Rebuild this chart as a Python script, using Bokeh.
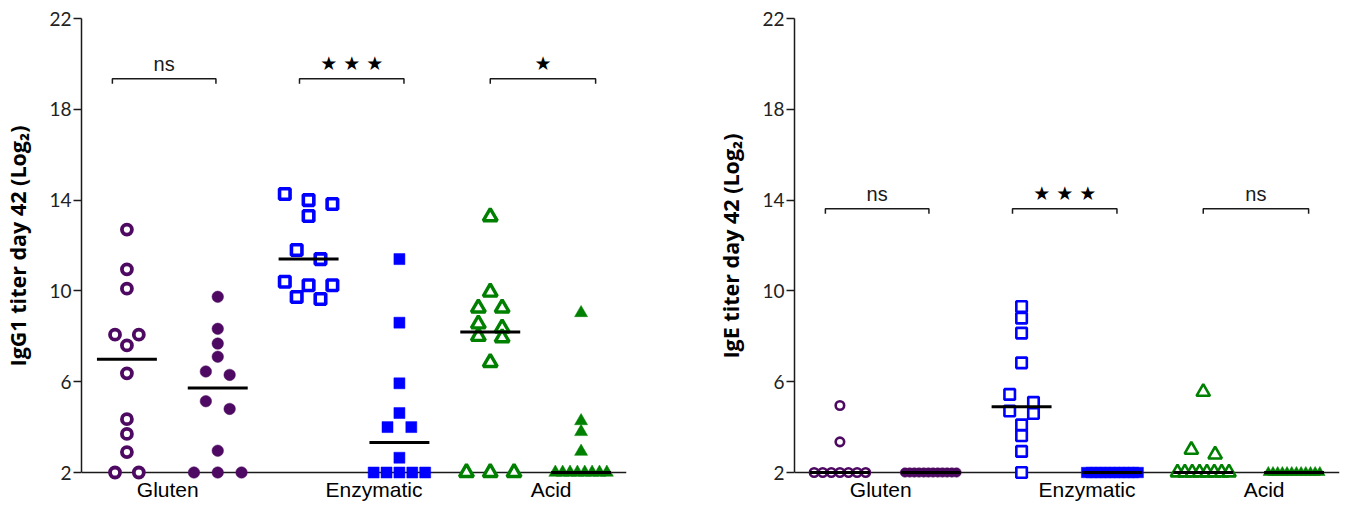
import numpy as np
from bokeh.plotting import figure
from bokeh.layouts import row
from bokeh.models import Range1d, FixedTicker, Span
from bokeh.core.properties import value
from bokeh.embed import file_html
from bokeh.resources import INLINE

# ---------------- data ----------------
groups = ["Gluten", "Enzymatic", "Acid"]
group_label_pos = [1.45, 3.72, 5.67]
y_ticks = [2, 6, 10, 14, 18, 22]

# IgG1 (left panel), log2 titers; open = first column, filled = second column
igg1_gluten_open = [12.7, 10.95, 10.1, 8.07, 8.07, 7.6, 6.37, 4.35, 3.7, 2.9, 2, 2]
igg1_gluten_filled = [9.74, 8.33, 7.68, 7.1, 6.45, 6.3, 5.14, 4.8, 2.96, 2, 2, 2]
igg1_enz_open = [14.27, 14.0, 13.83, 13.3, 11.8, 11.4, 10.4, 10.25, 10.25, 9.73, 9.64]
igg1_enz_filled = [11.4, 8.6, 5.93, 4.62, 4.0, 4.0, 2.65, 2, 2, 2, 2, 2]
igg1_acid_open = [13.27, 9.95, 9.25, 9.25, 8.55, 8.37, 8.0, 7.94, 6.85, 2, 2, 2]
igg1_acid_filled = [9.03, 4.27, 3.79, 2.92, 2, 2, 2, 2, 2, 2, 2, 2]
igg1_sig = ["ns", "★ ★ ★", "★"]

# IgE (right panel)
ige_gluten_open = [4.95, 3.35, 2, 2, 2, 2, 2, 2, 2]
ige_gluten_filled = [2, 2, 2, 2, 2, 2, 2, 2, 2, 2, 2, 2]
ige_enz_open = [9.31, 8.8, 8.14, 6.83, 5.44, 5.09, 4.71, 4.6, 4.1, 3.62, 2.93, 2]
ige_enz_filled = [2, 2, 2, 2, 2, 2, 2, 2, 2, 2, 2, 2]
ige_acid_open = [5.55, 3.0, 2.79, 2, 2, 2, 2, 2, 2, 2, 2]
ige_acid_filled = [2, 2, 2, 2, 2, 2, 2, 2, 2, 2, 2, 2]
ige_sig = ["ns", "★ ★ ★", "ns"]

# ---------------- layout constants ----------------
PURPLE = "#4e0a63"
BLUE = "#0000ff"
GREEN = "#008000"
INK = "#1a1a1a"

HEIGHT = 501
TOP = 18
FRAME_H = HEIGHT - TOP
FRAME_W = 550
PX_Y = 22.7                       # pixels per log2 unit
X0, X1 = 0.5, 6.5
Y1 = 22
Y0 = Y1 - FRAME_H / PX_Y          # frame reaches down to hold the group names
PX_X = FRAME_W / (X1 - X0)
LABEL_DROP_PX = 17                # baseline of group names below y = 2
NBSP = "\u00a0"

bracket_spans = [(0.84, 1.98), (2.9, 4.05), (5.0, 6.16)]


def swarm(vals, center, step_px=24.0, max_span_px=52.0, row_px=10.0):
    """Spread points that share (nearly) the same value horizontally."""
    order = sorted(range(len(vals)), key=lambda i: -vals[i])
    rows = []
    for i in order:
        if rows and (vals[rows[-1][0]] - vals[i]) * PX_Y < row_px:
            rows[-1].append(i)
        else:
            rows.append([i])
    xs = [0.0] * len(vals)
    for r in rows:
        n = len(r)
        step = step_px if n < 2 else min(step_px, max_span_px / (n - 1))
        for k, i in enumerate(r):
            xs[i] = center + (k - (n - 1) / 2) * step / PX_X
    return xs


def make_panel(series, ylabel, sig, bracket_y, width, border_right, styles):
    p = figure(width=width, height=HEIGHT, output_backend="svg", toolbar_location=None,
               x_range=Range1d(X0, X1), y_range=Range1d(Y0, Y1),
               min_border_left=76, min_border_right=border_right,
               min_border_top=TOP, min_border_bottom=0)
    p.outline_line_color = None
    p.xgrid.visible = False
    p.ygrid.visible = False
    p.xaxis.visible = False
    p.background_fill_color = "white"
    p.border_fill_color = "white"

    # baseline at y = 2 (acts as the x axis line)
    p.add_layout(Span(location=2, dimension="width", line_color=INK,
                      line_width=1.5, level="underlay"))

    # points
    for k, vals in enumerate(series):
        pos = k + 1
        st = styles[k]
        xs = swarm(vals, pos)
        kw = dict(marker=st["marker"], size=st["size"], line_color=st["color"],
                  line_width=st["lw"])
        kw["fill_color"] = st["color"] if st["filled"] else "white"
        p.scatter(xs, vals, **kw)

    # medians
    for k, vals in enumerate(series):
        pos = k + 1
        m = float(np.median(vals))
        p.segment(x0=[pos - 0.33], y0=[m], x1=[pos + 0.33], y1=[m],
                  line_color="black", line_width=3)

    # significance brackets
    d = 5.0 / PX_Y
    for (a, b), s in zip(bracket_spans, sig):
        p.multi_line(xs=[[a, a, b, b]], ys=[[bracket_y - d, bracket_y, bracket_y, bracket_y - d]],
                     line_color=INK, line_width=1.5)
        if "★" in s:
            p.text(x=[(a + b) / 2], y=[bracket_y + 16.0 / PX_Y], text=[s],
                   text_font=value("DejaVu Sans"), text_font_size="19px",
                   text_align="center", text_baseline="alphabetic", text_color="black")
        else:
            p.text(x=[(a + b) / 2], y=[bracket_y + 14.5 / PX_Y], text=[s],
                   text_font=value("Liberation Sans"), text_font_size="20px",
                   text_align="center", text_baseline="alphabetic", text_color=INK)

    # group names below the baseline (inside the frame)
    p.text(x=group_label_pos, y=[2 - LABEL_DROP_PX / PX_Y] * len(groups), text=groups,
           text_font=value("Liberation Sans"), text_font_size="21px",
           text_align="center", text_baseline="alphabetic", text_color="black")

    # y axis
    ya = p.yaxis[0]
    ya.ticker = FixedTicker(ticks=y_ticks)
    ya.bounds = (2, 22)
    ya.axis_line_color = INK
    ya.axis_line_width = 1.5
    ya.major_tick_line_color = INK
    ya.major_tick_line_width = 1.5
    ya.major_tick_out = 8
    ya.major_tick_in = 0
    ya.minor_tick_line_color = None
    ya.major_label_standoff = 2
    ya.major_label_text_font = "Lato"
    ya.major_label_text_font_size = "19px"
    ya.major_label_text_color = "#222222"
    # leading no-break spaces keep the label centred on the 2–22 axis span
    ya.axis_label = NBSP * 5 + ylabel
    ya.axis_label_text_font = "Open Sans"
    ya.axis_label_text_font_style = "bold"
    ya.axis_label_text_font_size = "21.5px"
    ya.axis_label_text_color = "black"
    ya.axis_label_standoff = 14
    return p


left_styles = [
    dict(marker="circle", size=10, lw=3.8, color=PURPLE, filled=False),
    dict(marker="circle", size=11.5, lw=0.5, color=PURPLE, filled=True),
    dict(marker="square", size=10.5, lw=3.6, color=BLUE, filled=False),
    dict(marker="square", size=11, lw=0.5, color=BLUE, filled=True),
    dict(marker="triangle", size=14, lw=3.4, color=GREEN, filled=False),
    dict(marker="triangle", size=13, lw=0.5, color=GREEN, filled=True),
]
right_styles = [
    dict(marker="circle", size=8.5, lw=2.6, color=PURPLE, filled=False),
    dict(marker="circle", size=9.5, lw=0.5, color=PURPLE, filled=True),
    dict(marker="square", size=10.5, lw=2.6, color=BLUE, filled=False),
    dict(marker="square", size=10.5, lw=0.5, color=BLUE, filled=True),
    dict(marker="triangle", size=13.5, lw=2.6, color=GREEN, filled=False),
    dict(marker="triangle", size=10.5, lw=0.5, color=GREEN, filled=True),
]

p1 = make_panel([igg1_gluten_open, igg1_gluten_filled, igg1_enz_open, igg1_enz_filled,
                 igg1_acid_open, igg1_acid_filled],
                "IgG1 titer day 42 (Log₂)", igg1_sig, 19.35, 713, 87, left_styles)
p2 = make_panel([ige_gluten_open, ige_gluten_filled, ige_enz_open, ige_enz_filled,
                 ige_acid_open, ige_acid_filled],
                "IgE titer day 42 (Log₂)", ige_sig, 13.62, 627, 1, right_styles)

layout = row(p1, p2)
open("out.html", "w").write(file_html(layout, INLINE))
